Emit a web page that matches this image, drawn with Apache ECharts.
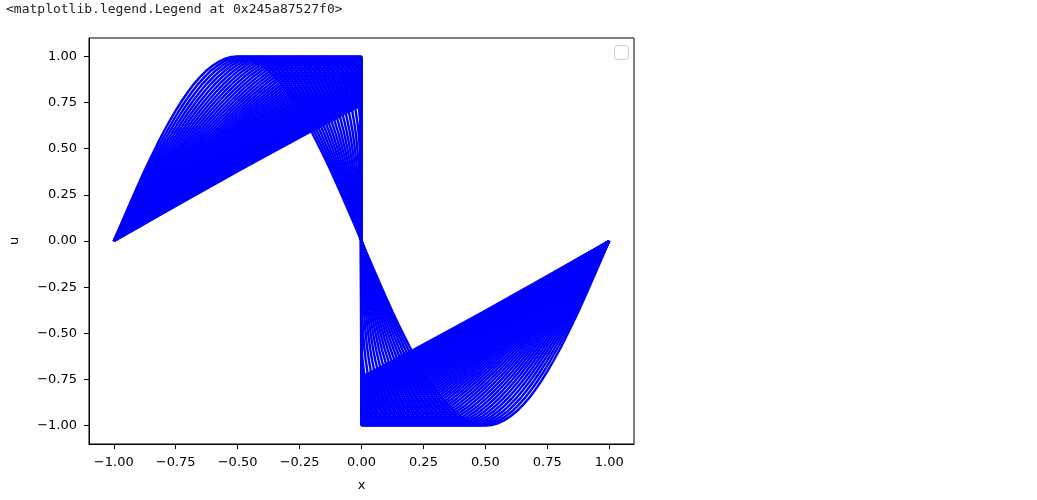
<!DOCTYPE html>
<html><head><meta charset="utf-8">
<script src="https://cdn.jsdelivr.net/npm/echarts@6/dist/echarts.min.js"></script>
<style>html,body{margin:0;padding:0;background:#fff}#c{width:1037px;height:500px}</style>
</head><body><div id="c"></div>
<script>
// Initial profile (first curve) on its x grid
const x0 = [-1,-0.975,-0.95,-0.925,-0.9,-0.875,-0.85,-0.825,-0.8,-0.775,-0.75,-0.725,-0.7,-0.675,-0.65,-0.625,-0.6,-0.575,-0.55,-0.525,-0.5,-0.475,-0.45,-0.425,-0.4,-0.375,-0.35,-0.325,-0.3,-0.275,-0.25,-0.225,-0.2,-0.175,-0.15,-0.125,-0.1,-0.075,-0.05,-0.025,0,
  0.025,0.05,0.075,0.1,0.125,0.15,0.175,0.2,0.225,0.25,0.275,0.3,0.325,0.35,0.375,0.4,0.425,0.45,0.475,0.5,0.525,0.55,0.575,0.6,0.625,0.65,0.675,0.7,0.725,0.75,0.775,0.8,0.825,0.85,0.875,0.9,0.925,0.95,0.975,1];
const u0 = [0,0.078,0.156,0.233,0.309,0.383,0.454,0.522,0.588,0.649,0.707,0.760,0.809,0.853,0.891,0.924,0.951,0.972,0.988,0.997,1,0.997,0.988,0.972,0.951,0.924,0.891,0.853,0.809,0.760,0.707,0.649,0.588,0.522,0.454,0.383,0.309,0.233,0.156,0.078,0,
  -0.078,-0.156,-0.233,-0.309,-0.383,-0.454,-0.522,-0.588,-0.649,-0.707,-0.760,-0.809,-0.853,-0.891,-0.924,-0.951,-0.972,-0.988,-0.997,-1,-0.997,-0.988,-0.972,-0.951,-0.924,-0.891,-0.853,-0.809,-0.760,-0.707,-0.649,-0.588,-0.522,-0.454,-0.383,-0.309,-0.233,-0.156,-0.078,0];
// Snapshot times of the plotted curves
const times = [0,0.02,0.04,0.06,0.08,0.1,0.12,0.14,0.16,0.18,0.2,0.22,0.24,0.26,0.28,0.3,0.32,0.34,0.36,0.38,0.4,0.42,0.44,0.46,0.48,0.5,0.52,0.54,0.56,0.58,0.6,0.62,0.64,0.66,0.68,0.7,0.72,0.74,0.76,0.78,0.8,0.82,0.84,0.86,0.88,0.9,0.92,0.94,0.96,0.98,1.0];
const xTicks = [-1,-0.75,-0.5,-0.25,0,0.25,0.5,0.75,1];
const yTicks = [-1,-0.75,-0.5,-0.25,0,0.25,0.5,0.75,1];
const headerText = '<matplotlib.legend.Legend at 0x245a87527f0>';

// Move the initial points along their characteristics; stationary shock at x = 0
function snapshot(t){
  const n = x0.length, mid = (n-1)/2;
  const xs = x0.map((v,i)=>v+u0[i]*t);
  const left=[]; let shockL=null;
  for(let i=0;i<=mid;i++){
    if(xs[i]>1e-9){const a=i-1;const f=(0-xs[a])/(xs[i]-xs[a]);shockL=u0[a]+f*(u0[i]-u0[a]);break;}
    left.push([xs[i],u0[i]]);
  }
  const right=[]; let shockR=null;
  for(let i=n-1;i>=mid;i--){
    if(xs[i]<-1e-9){const a=i+1;const f=(0-xs[a])/(xs[i]-xs[a]);shockR=u0[a]+f*(u0[i]-u0[a]);break;}
    right.unshift([xs[i],u0[i]]);
  }
  const pts=left.slice();
  if(shockL!==null) pts.push([0,shockL]);
  if(shockR!==null) pts.push([0,shockR]);
  for(const p of right){const l=pts[pts.length-1]; if(l&&l[0]===p[0]&&l[1]===p[1]) continue; pts.push(p);}
  return pts;
}

const fmt = v => (Math.abs(v)<1e-9?0:v).toFixed(2).replace('-','\u2212');
const font = 'DejaVu Sans';
const chart = echarts.init(document.getElementById('c'), null, {renderer:'canvas'});
chart.setOption({
  animation:false,
  backgroundColor:'#fff',
  grid:{left:88,top:38,width:546,height:406,show:true,borderColor:'#000',borderWidth:1,backgroundColor:'transparent'},
  xAxis:{type:'value',min:-1.1,max:1.1,
    name:'x',nameLocation:'middle',nameGap:35,nameTextStyle:{fontFamily:font,fontSize:13,color:'#000'},
    axisLine:{show:true,onZero:false,lineStyle:{color:'#000',width:1}},
    axisTick:{show:true,inside:false,length:5,customValues:xTicks,lineStyle:{color:'#000'}},
    axisLabel:{customValues:xTicks,formatter:fmt,fontFamily:font,fontSize:13,color:'#000',margin:12},
    splitLine:{show:false}},
  yAxis:{type:'value',min:-1.1,max:1.1,
    name:'u',nameLocation:'middle',nameGap:68,nameRotate:90,nameTextStyle:{fontFamily:font,fontSize:13,color:'#000'},
    axisLine:{show:true,onZero:false,lineStyle:{color:'#000',width:1}},
    axisTick:{show:true,inside:false,length:5,customValues:yTicks,lineStyle:{color:'#000'}},
    axisLabel:{customValues:yTicks,formatter:fmt,fontFamily:font,fontSize:13,color:'#000',margin:12},
    splitLine:{show:false}},
  graphic:[
    {type:'text',left:6,top:3,style:{text:headerText,fontFamily:'DejaVu Sans Mono',fontSize:13,fill:'#222'}},
    {type:'rect',shape:{x:614.5,y:45.5,width:14,height:14,r:3},style:{fill:'#fff',stroke:'#cccccc',lineWidth:1},z:100}
  ],
  series: times.map(t=>({type:'line',data:snapshot(t),showSymbol:false,symbol:'none',silent:true,
    lineStyle:{color:'#0000ff',width:2.4},itemStyle:{color:'#0000ff'},clip:true}))
});
</script></body></html>
